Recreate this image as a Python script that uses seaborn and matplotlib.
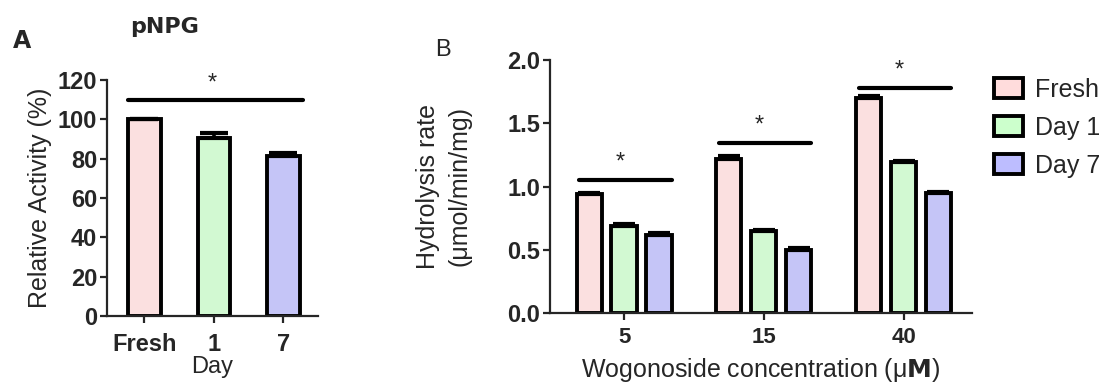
import numpy as np
import pandas as pd
import seaborn as sns
import matplotlib.pyplot as plt
from matplotlib.patches import Patch

# panel A data
days = ["Fresh", "1", "7"]
activity = [100, 90.5, 81.5]
activity_err = [0, 2.8, 1.4]

# panel B data
concs = ["5", "15", "40"]
groups = ["Fresh", "Day 1", "Day 7"]
rate_fresh = [0.94, 1.22, 1.70]
rate_day1 = [0.69, 0.65, 1.19]
rate_day7 = [0.62, 0.50, 0.95]
err_fresh = [0.01, 0.02, 0.015]
err_day1 = [0.01, 0.01, 0.008]
err_day7 = [0.015, 0.01, 0.01]

colors = ["#FFDCDC", "#CCFFCC", "#BDBDFF"]

sns.set_style("ticks")
plt.rcParams['font.family'] = ['Liberation Sans', 'DejaVu Sans']
plt.rcParams['axes.linewidth'] = 1.6
plt.rcParams['xtick.major.width'] = 1.6
plt.rcParams['ytick.major.width'] = 1.6
plt.rcParams['xtick.major.size'] = 5
plt.rcParams['ytick.major.size'] = 5

fig = plt.figure(figsize=(11.07, 3.86), dpi=100)

#----------------------------- panel A -----------------------------
axA = fig.add_axes([107/1107, 70/386, 211/1107, 236/386])
dfA = pd.DataFrame({"day": days, "activity": activity})
sns.barplot(data=dfA, x="day", y="activity", hue="day", palette=colors,
            width=0.47, edgecolor="black", linewidth=2.8, errorbar=None,
            legend=False, ax=axA)
axA.errorbar(range(len(days)), activity, yerr=[[0]*len(days), activity_err],
             fmt="none", ecolor="black", elinewidth=2.6, capsize=10, capthick=3)
axA.set_ylim(0, 120)
axA.set_xlim(-0.54, 2.5)
axA.set_yticks(range(0, 121, 20))
axA.set_ylabel("Relative Activity (%)", fontsize=18, labelpad=4)
axA.set_xlabel("Day", fontsize=17, labelpad=0)
for lab in axA.get_xticklabels() + axA.get_yticklabels():
    lab.set_fontweight("bold")
    lab.set_fontsize(17)
axA.tick_params(axis="y", pad=2)
axA.tick_params(axis="x", pad=7)
sns.despine(ax=axA)
# significance
axA.plot([-0.24, 2.28], [110, 110], color="black", lw=3, clip_on=False)
axA.text(0.97, 118, "*", ha="center", va="center", fontsize=17)

fig.text(13/1107, 1-41/386, "A", fontsize=17, fontweight="bold",
         family=["DejaVu Sans"], va="center")
fig.text(165/1107, 1-27/386, "pNPG", fontsize=16, fontweight="bold",
         family=["DejaVu Sans"], ha="center", va="center")

#----------------------------- panel B -----------------------------
axB = fig.add_axes([550/1107, 73/386, 422/1107, 253/386])
dfB = pd.DataFrame({
    "conc": concs * 3,
    "group": [g for g in groups for _ in concs],
    "rate": rate_fresh + rate_day1 + rate_day7,
})
errB = [err_fresh, err_day1, err_day7]
sns.barplot(data=dfB, x="conc", y="rate", hue="group", hue_order=groups,
            palette=colors, width=0.75, gap=0.28, edgecolor="black",
            linewidth=2.8, errorbar=None, legend=False, ax=axB)
for cont, errs in zip(axB.containers, errB):
    xs = [p.get_x() + p.get_width()/2 for p in cont]
    hs = [p.get_height() for p in cont]
    axB.errorbar(xs, hs, yerr=[[0]*len(xs), errs], fmt="none", ecolor="black",
                 elinewidth=2.6, capsize=8, capthick=3)
axB.set_ylim(0, 2.0)
axB.set_xlim(-0.53, 2.49)
axB.set_yticks([0, 0.5, 1.0, 1.5, 2.0])
axB.set_yticklabels(["0.0", "0.5", "1.0", "1.5", "2.0"])
axB.set_ylabel("Hydrolysis rate\n(\u03bcmol/min/mg)", fontsize=18, labelpad=26,
               linespacing=1.4)
axB.set_xlabel("Wogonoside concentration (\u03bc$\\mathbf{M}$)", fontsize=18, labelpad=6)
for lab in axB.get_yticklabels():
    lab.set_fontweight("bold")
    lab.set_fontsize(17)
for lab in axB.get_xticklabels():
    lab.set_fontweight("bold")
    lab.set_fontsize(16)
axB.tick_params(axis="y", pad=2)
axB.tick_params(axis="x", pad=5)
sns.despine(ax=axB)
# significance lines
sig_y = [1.05, 1.34, 1.78]
for i, y in enumerate(sig_y):
    axB.plot([i - 0.32, i + 0.34], [y, y], color="black", lw=3, clip_on=False)
    axB.text(i - 0.03, y + 0.14, "*", ha="center", va="center", fontsize=17)

fig.text(435/1107, 1-50/386, "B", fontsize=17, va="center")

handles = [Patch(facecolor=c, edgecolor="black", linewidth=2.8) for c in colors]
fig.legend(handles, groups, loc="upper left", bbox_to_anchor=(974/1107, 1-58/386),
           frameon=False, fontsize=18, handlelength=1.15, handleheight=0.85,
           labelspacing=0.55, handletextpad=0.5, borderpad=0.3)

fig.savefig("out.png", dpi=100)
